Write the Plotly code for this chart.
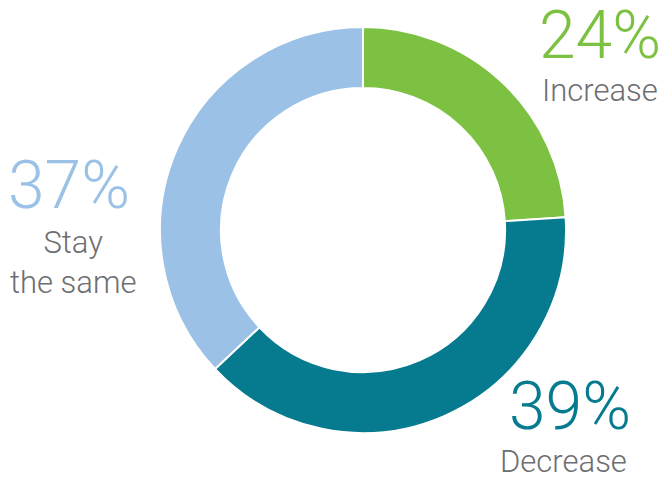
import plotly.graph_objects as go

labels = ["Increase", "Decrease", "Stay the same"]
values = [24, 39, 37]
colors = ["#7dc142", "#067a8e", "#9bc2e6"]
pct_text = ["24%", "39%", "37%"]
label_text = ["Increase", "Decrease", "Stay<br>the same"]

W, H = 663, 479
FONT = "Roboto, sans-serif"

fig = go.Figure(go.Pie(
    labels=labels, values=values, sort=False, direction="clockwise", rotation=0,
    hole=0.70, marker=dict(colors=colors, line=dict(color="white", width=2)),
    textinfo="none", hoverinfo="label+percent",
    domain=dict(x=[160 / W, 566 / W], y=[1 - 433 / H, 1 - 27 / H]),
))

def px(x, y):
    return x / W, 1 - y / H

annots = []
pct_pos = [(600, 36), (570, 406), (69, 185)]
lab_pos = [(600, 90), (563, 461), (73, 262)]
for i in range(3):
    x, y = px(*pct_pos[i])
    annots.append(dict(x=x, y=y, xref="paper", yref="paper", text=pct_text[i],
                       showarrow=False, xanchor="center", yanchor="middle",
                       font=dict(family=FONT, size=66, weight=300, color=colors[i])))
    x, y = px(*lab_pos[i])
    annots.append(dict(x=x, y=y, xref="paper", yref="paper", text=label_text[i],
                       showarrow=False, xanchor="center", yanchor="middle",
                       font=dict(family=FONT, size=31, weight=300, color="#6d6e71")))

fig.update_layout(width=W, height=H, margin=dict(l=0, r=0, t=0, b=0),
                  showlegend=False, paper_bgcolor="white", plot_bgcolor="white",
                  annotations=annots)
fig.write_html("out.html", config={"displayModeBar": False},
               post_script="document.body.style.margin='0';")
